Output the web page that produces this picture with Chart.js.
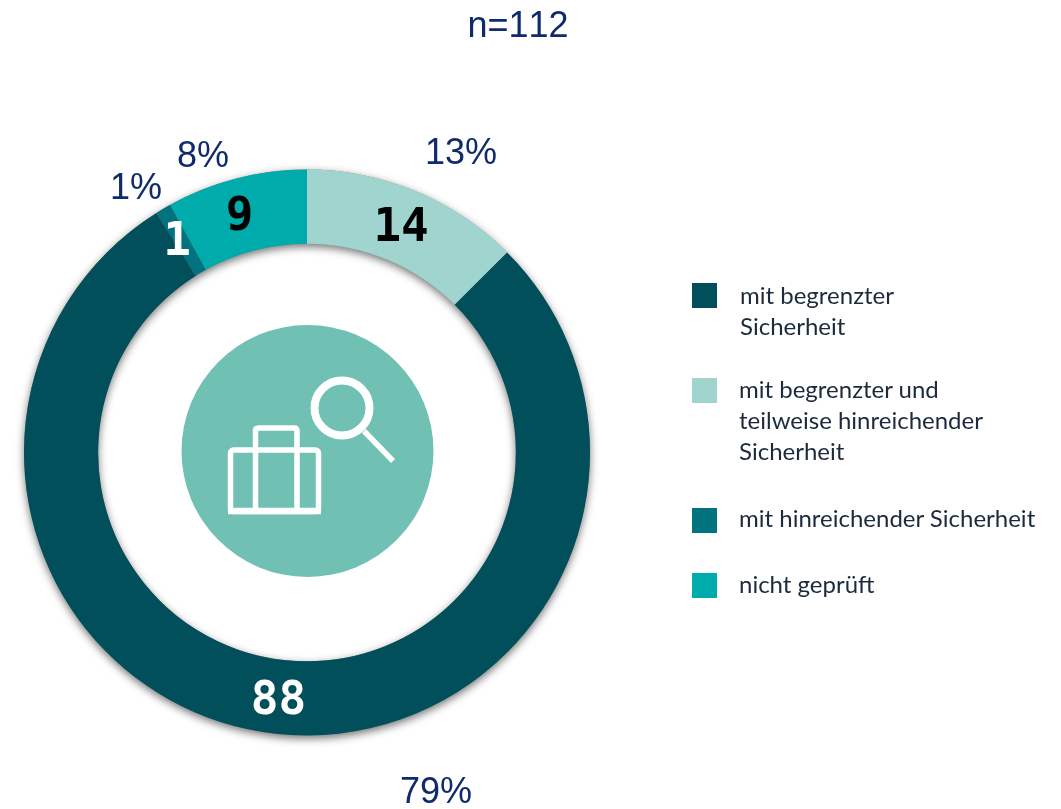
<!DOCTYPE html>
<html lang="de">
<head>
<meta charset="utf-8">
<title>n=112</title>
<script src="https://cdn.jsdelivr.net/npm/chart.js@4/dist/chart.umd.js"></script>
<style>
html,body{margin:0;padding:0;background:#fff;width:1061px;height:809px;overflow:hidden}
#wrap{position:relative;width:1061px;height:809px}
canvas{position:absolute;left:0;top:0}
svg{position:absolute;left:0;top:0;pointer-events:none}
.pct{position:absolute;font:36px "Liberation Sans",Arial,sans-serif;font-kerning:none;color:#0F2B6B;line-height:40px;white-space:nowrap;transform:translate(-50%,-50%)}
.sw{position:absolute;left:692px;width:25px;height:25px}
.lt{position:absolute;font:24px Lato,"Open Sans",sans-serif;color:#1B2A3C;line-height:31px;white-space:pre}
</style>
</head>
<body>
<div id="wrap">
<canvas id="c" width="1061" height="809"></canvas>
<svg width="1061" height="809" fill="none" stroke="#fff">
<circle cx="307.5" cy="451" r="126" fill="#70C1B3" stroke="none"/>
<rect x="230.5" y="450" width="88" height="61.500" rx="3" stroke-width="5.500"/>
<path d="M228 511H321" stroke-width="6.500"/>
<path d="M255.500 450V431Q255.500 428 258.500 428H294Q297 428 297 431V510" stroke-width="5.500"/>
<path d="M255.500 450V510" stroke-width="5.500"/>
<circle cx="342" cy="408" r="27.500" stroke-width="8"/>
<path d="M364 431L393 461" stroke-width="5.500"/>
</svg>
</div>
<script>
const categories = ["mit begrenzter und teilweise hinreichender Sicherheit","mit begrenzter Sicherheit","mit hinreichender Sicherheit","nicht geprüft"];
const values = [14, 88, 1, 9];
const colors = ["#A0D4CF","#004F5A","#00737F","#00ABAB"];
const labelColors = ["#000","#fff","#fff","#000"];
const labelNudge = [[0,4],[-1,5],[-5,2],[-6,4]];
const percentLabels = ["13%","79%","1%","8%"];
const percentPos = [[461,152],[436,791],[136,187],[203,155]];
const legendLines = [["mit begrenzter","Sicherheit"],["mit begrenzter und","teilweise hinreichender","Sicherheit"],["mit hinreichender Sicherheit"],["nicht geprüft"]];
const legendColors = ["#004F5A","#A0D4CF","#00737F","#00ABAB"];
const legendTop = [283,378,508,573];
const legendTextTop = [278.5,372.5,501.5,567.5];
const legendTextLeft = [740,739,739,739];
const title = "n=112";

const wrap = document.getElementById('wrap');
function addPct(t,x,y){const d=document.createElement('div');d.className='pct';d.textContent=t;d.style.left=x+'px';d.style.top=y+'px';wrap.appendChild(d);}
addPct(title,518,25);
percentLabels.forEach((t,i)=>addPct(t,percentPos[i][0],percentPos[i][1]));
legendLines.forEach((lines,i)=>{
  const s=document.createElement('div');s.className='sw';s.style.top=legendTop[i]+'px';s.style.background=legendColors[i];wrap.appendChild(s);
  const d=document.createElement('div');d.className='lt';d.textContent=lines.join('\n');d.style.left=legendTextLeft[i]+'px';d.style.top=legendTextTop[i]+'px';wrap.appendChild(d);
});

const ringShadow = {
  id:'ringShadow',
  beforeDatasetsDraw(chart){
    const a=chart.getDatasetMeta(0).data[0];
    const {ctx}=chart;
    ctx.save();
    ctx.shadowColor='rgba(0,0,0,0.55)';ctx.shadowBlur=9;ctx.shadowOffsetY=3;
    ctx.fillStyle='#888';
    ctx.beginPath();
    ctx.arc(a.x,a.y,a.outerRadius,0,Math.PI*2);
    ctx.arc(a.x,a.y,a.innerRadius,Math.PI*2,0,true);
    ctx.fill();
    ctx.restore();
  }
};
const valueLabels = {
  id:'valueLabels',
  afterDatasetsDraw(chart){
    const {ctx}=chart;
    chart.getDatasetMeta(0).data.forEach((arc,i)=>{
      const p=arc.getCenterPoint();
      ctx.save();
      ctx.font='bold 46px "DejaVu Sans Mono",monospace';
      ctx.textAlign='center';ctx.textBaseline='middle';
      ctx.fillStyle=labelColors[i];
      ctx.fillText(String(values[i]),p.x+labelNudge[i][0],p.y+labelNudge[i][1]);
      ctx.restore();
    });
  }
};
new Chart(document.getElementById('c'),{
  type:'doughnut',
  data:{labels:categories,datasets:[{data:values,backgroundColor:colors,borderWidth:0}]},
  options:{
    responsive:false,animation:false,
    cutout:'73.8%',
    layout:{padding:{left:24,right:471,top:169,bottom:73}},
    plugins:{legend:{display:false},tooltip:{enabled:false}}
  },
  plugins:[ringShadow,valueLabels]
});
</script>
</body>
</html>
